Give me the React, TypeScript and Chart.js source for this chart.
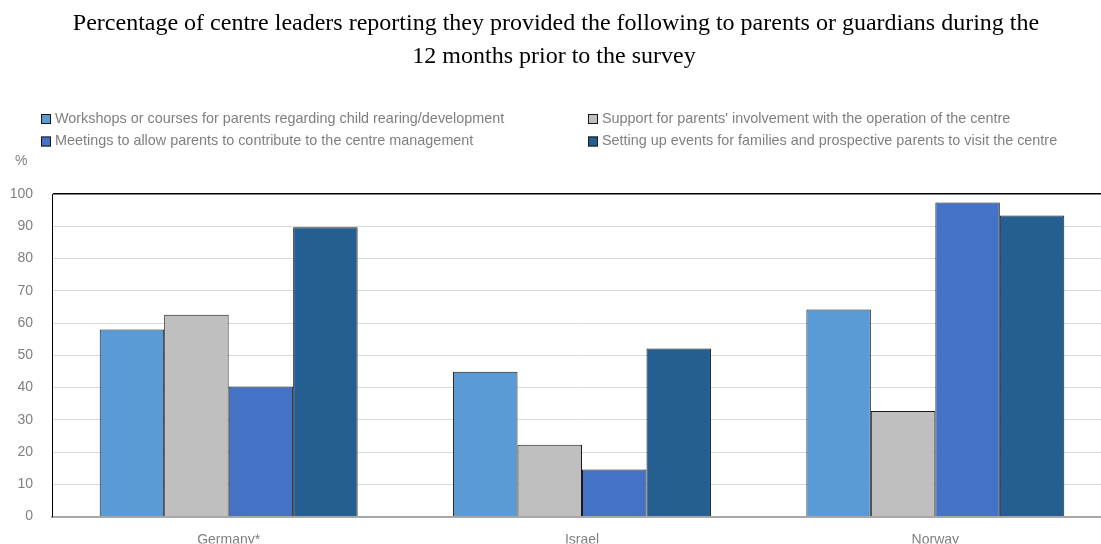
import React, { useEffect, useRef } from "react";
import { Chart, registerables } from "chart.js";

Chart.register(...registerables);

const titleLines = [
  "Percentage of centre leaders reporting they provided the following to parents or guardians during the",
  "12 months prior to the survey",
];
const categories = ["Germany*", "Israel", "Norway"];
const seriesNames = [
  "Workshops or courses for parents regarding child rearing/development",
  "Support for parents' involvement with the operation of the centre",
  "Meetings to allow parents to contribute to the centre management",
  "Setting up events for families and prospective parents to visit the centre",
];
const workshops = [58.0, 44.9, 64.2];
const support = [62.6, 22.3, 32.7];
const meetings = [40.3, 14.6, 97.4];
const events = [89.7, 52.1, 93.3];
const colors = ["#5B9BD5", "#BFBFBF", "#4472C4", "#255E91"];
const yMin = 0;
const yMax = 100;
const yStep = 10;
const unitLabel = "%";

const SANS = '"Liberation Sans", Arial, sans-serif';
const SERIF = '"Liberation Serif", "Times New Roman", serif';
const GREY = "#7f7f7f";

const decorPlugin = {
  id: "decor",
  afterDraw(chart: any) {
    const ctx = chart.ctx;
    ctx.save();
    // title
    ctx.fillStyle = "#000";
    ctx.font = `24px ${SERIF}`;
    ctx.textAlign = "center";
    ctx.textBaseline = "alphabetic";
    ctx.fillText(titleLines[0], 556, 30);
    ctx.fillText(titleLines[1], 554, 63);
    // legend
    ctx.font = `14.4px ${SANS}`;
    ctx.textAlign = "left";
    ctx.textBaseline = "middle";
    const pos = [
      [41, 119],
      [588, 119],
      [41, 141.5],
      [588, 141.5],
    ];
    [0, 1, 2, 3].forEach((i, k) => {
      const [x, y] = pos[k];
      ctx.fillStyle = colors[i];
      ctx.fillRect(x, y - 5, 10, 10);
      ctx.strokeStyle = "#1a1a1a";
      ctx.lineWidth = 1;
      ctx.strokeRect(x + 0.5, y - 5 + 0.5, 9, 9);
      ctx.fillStyle = GREY;
      ctx.fillText(seriesNames[i], x + 14, y);
    });
    // unit
    ctx.font = `14px ${SANS}`;
    ctx.fillText(unitLabel, 15, 161);
    ctx.restore();
  },
};

export default function App() {
  const ref = useRef<HTMLCanvasElement>(null);
  useEffect(() => {
    if (!ref.current) return;
    const mk = (label: string, data: number[], color: string) => ({
      label,
      data,
      backgroundColor: color,
      borderColor: "#1a1a1a",
      borderWidth: 1,
      barPercentage: 1.0,
      categoryPercentage: 0.73,
    });
    const chart = new Chart(ref.current, {
      type: "bar",
      data: {
        labels: categories,
        datasets: [
          mk(seriesNames[0], workshops, colors[0]),
          mk(seriesNames[1], support, colors[1]),
          mk(seriesNames[2], meetings, colors[2]),
          mk(seriesNames[3], events, colors[3]),
        ],
      },
      options: {
        animation: false,
        responsive: false,
        devicePixelRatio: 1,
        layout: { padding: { top: 194, left: 0, right: 1, bottom: 0 } },
        plugins: {
          legend: { display: false },
          title: { display: false },
          tooltip: { enabled: false },
        },
        scales: {
          x: {
            grid: { display: false, drawTicks: false },
            border: { display: true, color: "#a6a6a6", width: 2 },
            ticks: { color: GREY, font: { family: SANS, size: 14 }, padding: 15 },
            afterFit: (s: any) => {
              s.height = 27;
            },
          },
          y: {
            min: yMin,
            max: yMax,
            grid: {
              drawTicks: false,
              color: (c: any) =>
                c.tick && c.tick.value === yMax ? "#000" : c.tick && c.tick.value === yMin ? "rgba(0,0,0,0)" : "#d9d9d9",
              lineWidth: (c: any) => (c.tick && c.tick.value === yMax ? 1.5 : 1),
            },
            border: { display: true, color: "#000", width: 1 },
            ticks: { stepSize: yStep, color: GREY, font: { family: SANS, size: 14 }, padding: 19 },
            afterFit: (s: any) => {
              s.width = 52;
            },
          },
        },
      },
      plugins: [decorPlugin],
    });
    return () => chart.destroy();
  }, []);
  return (
    <div style={{ position: "absolute", left: 0, top: 0, width: 1101, height: 544, overflow: "hidden", background: "#fff" }}>
      <canvas ref={ref} width={1113} height={544} style={{ width: 1113, height: 544, display: "block" }} />
    </div>
  );
}
